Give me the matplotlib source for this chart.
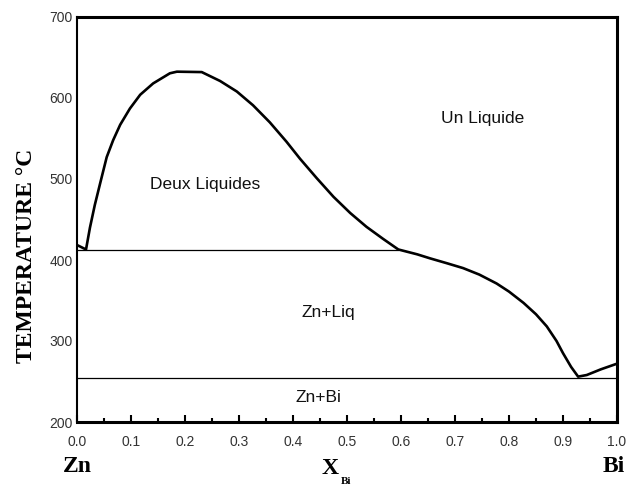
import matplotlib
matplotlib.use("Agg")
import matplotlib.pyplot as plt
from matplotlib.ticker import MultipleLocator

# Phase boundary (liquidus + miscibility gap)
x_curve = [0.0, 0.0167, 0.024, 0.033, 0.043, 0.055, 0.067, 0.080, 0.098, 0.117,
           0.141, 0.172, 0.185, 0.231, 0.265, 0.296, 0.326, 0.357, 0.388, 0.413,
           0.444, 0.475, 0.506, 0.536, 0.567, 0.595, 0.63, 0.654, 0.685, 0.715,
           0.745, 0.777, 0.80, 0.827, 0.85, 0.870, 0.888, 0.90, 0.915, 0.928,
           0.944, 0.97, 1.0]
t_curve = [418.5, 413, 440, 468, 495, 527, 548, 567, 587, 604,
           618, 630.5, 632.5, 632, 621, 608, 591, 570, 546, 525,
           501, 478, 458, 441, 426, 413, 407, 402, 396, 390,
           382, 371, 361, 347, 333, 318, 300, 285, 268, 256,
           258, 265, 272]

# Invariant lines
monotectic_T = 412.5
monotectic_x = [0.0, 0.595]
eutectic_T = 254
eutectic_x = [0.0, 1.0]

# Region labels
region_labels = ["Deux Liquides", "Un Liquide", "Zn+Liq", "Zn+Bi"]
region_x = [0.237, 0.751, 0.466, 0.448]
region_t = [493, 575, 335, 230]

x_ticks = [0.0, 0.1, 0.2, 0.3, 0.4, 0.5, 0.6, 0.7, 0.8, 0.9, 1.0]
y_ticks = [200, 300, 400, 500, 600, 700]

W, H = 631, 491
fig = plt.figure(figsize=(W / 100, H / 100), dpi=100)
ax = fig.add_axes([77 / W, 1 - 422 / H, (617 - 77) / W, (422 - 17) / H])

ax.plot(x_curve, t_curve, color="black", lw=1.9, solid_joinstyle="round")
ax.plot(monotectic_x, [monotectic_T] * 2, color="black", lw=0.9)
ax.plot(eutectic_x, [eutectic_T] * 2, color="black", lw=0.9)

for lab, xx, tt in zip(region_labels, region_x, region_t):
    ax.text(xx, tt, lab, ha="center", va="center", fontsize=12.5,
            family="Liberation Sans", color="#111111")

ax.set_xlim(0, 1)
ax.set_ylim(200, 700)
ax.set_xticks(x_ticks)
ax.set_xticklabels([f"{v:.1f}" for v in x_ticks])
ax.xaxis.set_minor_locator(MultipleLocator(0.05))
ax.set_yticks(y_ticks)
ax.set_yticklabels([str(v) for v in y_ticks])

ax.tick_params(axis="x", which="major", direction="in", length=5, width=1.5,
               pad=9, labelsize=10, labelcolor="#333333")
ax.tick_params(axis="x", which="minor", direction="in", length=3, width=1.5)
ax.tick_params(axis="y", which="major", direction="in", length=0, pad=3,
               labelsize=10, labelcolor="#333333")
for lab in ax.get_xticklabels() + ax.get_yticklabels():
    lab.set_family("Liberation Sans")

ax.spines["left"].set_linewidth(1.5)
ax.spines["bottom"].set_linewidth(2.2)
ax.spines["top"].set_linewidth(2.2)
ax.spines["right"].set_linewidth(2.2)

serif = dict(family="Liberation Serif", fontweight="bold", color="black")
fig.text(26.5 / W, 1 - 256 / H, "TEMPERATURE °C", rotation=90, ha="center",
         va="center", fontsize=17, **serif)
fig.text(77 / W, 1 - 466 / H, "Zn", ha="center", va="center", fontsize=17, **serif)
fig.text(614 / W, 1 - 466 / H, "Bi", ha="center", va="center", fontsize=17, **serif)
fig.text(330 / W, 1 - 468 / H, "X", ha="center", va="center", fontsize=17, **serif)
fig.text(346 / W, 1 - 482 / H, "Bi", ha="center", va="center", fontsize=8, **serif)

fig.savefig("out.png", dpi=100)
